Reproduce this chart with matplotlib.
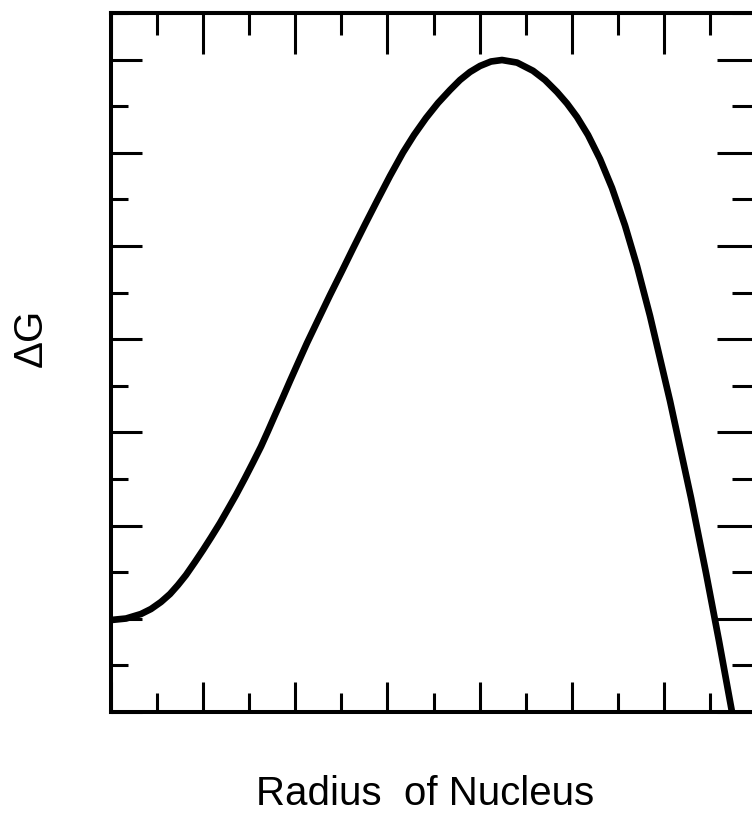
import matplotlib
matplotlib.use("Agg")
import matplotlib.pyplot as plt
from matplotlib.ticker import MultipleLocator, NullFormatter

# Curve (axis units: x 0..14, y 0..15)
radius = [0.0, 0.326, 0.651, 0.868, 1.085, 1.281, 1.454, 1.628, 1.823, 1.997,
          2.171, 2.366, 2.540, 2.713, 2.909, 3.082, 3.256, 3.408, 3.560, 3.734,
          3.885, 4.059, 4.254, 4.493, 4.754, 5.014, 5.253, 5.513, 5.774, 6.056,
          6.338, 6.577, 6.838, 7.098, 7.359, 7.575, 7.792, 8.009, 8.248, 8.487,
          8.813, 9.160, 9.421, 9.681, 9.898, 10.115, 10.354, 10.614, 10.875,
          11.157, 11.417, 11.700, 12.134, 12.590, 12.915, 13.197, 13.479, 13.523]
delta_g = [1.974, 2.006, 2.103, 2.210, 2.361, 2.532, 2.725, 2.940, 3.219, 3.476,
           3.745, 4.056, 4.356, 4.657, 5.021, 5.354, 5.697, 6.030, 6.373, 6.760,
           7.103, 7.489, 7.918, 8.412, 8.948, 9.464, 9.946, 10.461, 10.966, 11.502,
           12.006, 12.382, 12.747, 13.069, 13.348, 13.562, 13.734, 13.863, 13.959, 13.991,
           13.936, 13.760, 13.562, 13.305, 13.058, 12.768, 12.382, 11.867, 11.245,
           10.440, 9.571, 8.498, 6.674, 4.592, 2.983, 1.524, 0.0, -0.215]

x_label = "Radius  of Nucleus"
y_label = "ΔG"

plt.rcParams['font.family'] = ['Liberation Sans', 'DejaVu Sans']

W, H = 752, 816
fig = plt.figure(figsize=(W / 100, H / 100), dpi=100)
left, right, top, bottom = 111, 756, 13, 712
ax = fig.add_axes([left / W, (H - bottom) / H, (right - left) / W, (bottom - top) / H])
ax.set_xlim(0, 14)
ax.set_ylim(0, 15)

ax.plot(radius, delta_g, color='black', lw=4.8, solid_capstyle='butt',
        solid_joinstyle='round', clip_on=True)

for s in ax.spines.values():
    s.set_linewidth(2.9)

tw = 2.2
ax.xaxis.set_major_locator(MultipleLocator(2))
ax.xaxis.set_minor_locator(MultipleLocator(1))
ax.yaxis.set_major_locator(MultipleLocator(2))
ax.yaxis.set_minor_locator(MultipleLocator(1))
ax.xaxis.set_major_formatter(NullFormatter())
ax.yaxis.set_major_formatter(NullFormatter())
ax.tick_params(axis='x', which='major', direction='in', length=21.6, width=tw,
               bottom=True, top=False)
ax.tick_params(axis='x', which='minor', direction='in', length=13.7, width=tw,
               bottom=True, top=False)
ax.tick_params(axis='y', which='major', direction='in', length=22.3, width=tw,
               left=True, right=False)
ax.tick_params(axis='y', which='minor', direction='in', length=12.2, width=tw,
               left=True, right=False)

secx = ax.secondary_xaxis('top')
secx.xaxis.set_major_locator(MultipleLocator(2))
secx.xaxis.set_minor_locator(MultipleLocator(1))
secx.xaxis.set_major_formatter(NullFormatter())
secx.tick_params(which='major', direction='in', length=29.5, width=tw)
secx.tick_params(which='minor', direction='in', length=15.8, width=tw)
secx.spines['top'].set_linewidth(2.9)

secy = ax.secondary_yaxis('right')
secy.yaxis.set_major_locator(MultipleLocator(2))
secy.yaxis.set_minor_locator(MultipleLocator(1))
secy.yaxis.set_major_formatter(NullFormatter())
secy.tick_params(which='major', direction='in', length=28.0, width=tw)
secy.tick_params(which='minor', direction='in', length=17.3, width=tw)
secy.spines['right'].set_linewidth(2.9)

fig.text(425 / W, 11 / H, x_label, ha='center', va='baseline', fontsize=29)
fig.text(31 / W, (H - 338) / H, y_label, ha='center', va='center', rotation=90,
         fontsize=29)

fig.savefig('out.png', dpi=100)
